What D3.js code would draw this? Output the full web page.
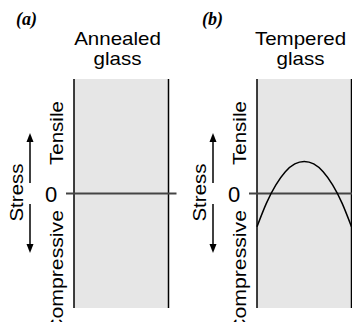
<!DOCTYPE html>
<html lang="en">
<head>
  <meta charset="utf-8">
  <title>Annealed vs tempered glass stress</title>
  <style>
    body { margin: 0; background: #fff; }
    svg { display: block; }
  </style>
</head>
<body>
  <script src="https://cdnjs.cloudflare.com/ajax/libs/d3/7.8.5/d3.min.js"></script>
  <script type="text/javascript">
  // data
  const panelTags = ["(a)", "(b)"];
  const panelTitles = [["Annealed", "glass"], ["Tempered", "glass"]];
  const yLabels = ["Tensile", "Compressive"];
  const zeroTick = [0];
  // depth through the glass thickness (0 = one face, 1 = the other)
  const depth = [0, 0.1, 0.2, 0.3, 0.4, 0.5, 0.6, 0.7, 0.8, 0.9, 1];
  // stress profile, + tensile / - compressive (arbitrary units)
  const annealedStress = [0, 0, 0, 0, 0, 0, 0, 0, 0, 0, 0];
  const temperedStress = [-0.29, -0.084, 0.075, 0.19, 0.258, 0.28, 0.258, 0.19, 0.075, -0.084, -0.29];

  const width = 352, height = 322;
  const panelW = 94.5, slabTop = 79, slabBottom = 308;
  const panelLeft = [74, 257];
  const stretch = 1.14;
  const sans = "'Liberation Sans', Arial, sans-serif";

  const svg = d3.select("body")
    .append("svg")
    .attr("width", width)
    .attr("height", height);

  const yScale = d3.scaleLinear()
    .domain([-1, 1])
    .range([slabBottom, slabTop]);

  const series = [annealedStress, temperedStress];

  panelLeft.forEach((left, i) => {
    const g = svg.append("g");
    const xScale = d3.scaleLinear().domain([0, 1]).range([left, left + panelW]);
    const dx = left - panelLeft[0];

    // glass slab
    g.append("rect")
      .attr("x", xScale(0))
      .attr("y", slabTop)
      .attr("width", xScale(1) - xScale(0))
      .attr("height", slabBottom - slabTop)
      .attr("fill", "#e6e6e6");

    [0, 1].forEach(d => {
      g.append("line")
        .attr("x1", xScale(d)).attr("x2", xScale(d))
        .attr("y1", slabTop).attr("y2", slabBottom)
        .attr("stroke", "#000")
        .attr("stroke-width", 1.5);
    });

    // zero line
    g.selectAll(".zero")
      .data(zeroTick)
      .enter()
      .append("line")
      .attr("x1", xScale(0) - 8)
      .attr("x2", xScale(1) + 8)
      .attr("y1", d => yScale(d))
      .attr("y2", d => yScale(d))
      .attr("stroke", "#444")
      .attr("stroke-width", 2);

    g.selectAll(".ztext")
      .data(zeroTick)
      .enter()
      .append("text")
      .attr("x", 51 + dx)
      .attr("y", d => yScale(d) + 8)
      .attr("text-anchor", "middle")
      .style("font-family", sans)
      .style("font-size", "22px")
      .text(d => d);

    // stress profile (only tempered has one off the zero line)
    if (i === 1) {
      const line = d3.line()
        .x((d, j) => xScale(depth[j]))
        .y(d => yScale(d))
        .curve(d3.curveNatural);
      g.append("path")
        .datum(series[i])
        .attr("d", line)
        .attr("fill", "none")
        .attr("stroke", "#000")
        .attr("stroke-width", 1.5);
    }

    // panel tag
    g.append("text")
      .attr("x", 16 + (i ? 186 : 0))
      .attr("y", 25)
      .style("font-family", "'Liberation Serif', 'Times New Roman', serif")
      .style("font-style", "italic")
      .style("font-weight", "bold")
      .style("font-size", "18px")
      .text(panelTags[i]);

    // title
    panelTitles[i].forEach((t, k) => {
      g.append("text")
        .attr("transform", `translate(${117.5 + dx}, ${45 + k * 20}) scale(${stretch},1)`)
        .attr("text-anchor", "middle")
        .style("font-family", sans)
        .style("font-size", "18px")
        .text(t);
    });

    // Stress label
    g.append("text")
      .attr("transform", `translate(${22.5 + dx}, 192.5) rotate(-90) scale(${stretch},1)`)
      .attr("text-anchor", "middle")
      .style("font-family", sans)
      .style("font-size", "18px")
      .text("Stress");

    // Tensile / Compressive
    g.append("text")
      .attr("transform", `translate(${62.5 + dx}, 165) rotate(-90) scale(${stretch},1)`)
      .attr("text-anchor", "start")
      .style("font-family", sans)
      .style("font-size", "18px")
      .text(yLabels[0]);

    g.append("text")
      .attr("transform", `translate(${62.5 + dx}, 210) rotate(-90) scale(1.18,1)`)
      .attr("text-anchor", "end")
      .style("font-family", sans)
      .style("font-size", "18px")
      .text(yLabels[1]);

    // arrows
    const ax = 30 + dx;
    g.append("line")
      .attr("x1", ax).attr("x2", ax)
      .attr("y1", 183).attr("y2", 140)
      .attr("stroke", "#000").attr("stroke-width", 1.5);
    g.append("path")
      .attr("d", `M${ax},133 L${ax - 3.5},142 L${ax + 3.5},142 Z`)
      .attr("fill", "#000");
    g.append("line")
      .attr("x1", ax).attr("x2", ax)
      .attr("y1", 204).attr("y2", 246)
      .attr("stroke", "#000").attr("stroke-width", 1.5);
    g.append("path")
      .attr("d", `M${ax},253 L${ax - 3.5},244 L${ax + 3.5},244 Z`)
      .attr("fill", "#000");
  });
  </script>
</body>
</html>
